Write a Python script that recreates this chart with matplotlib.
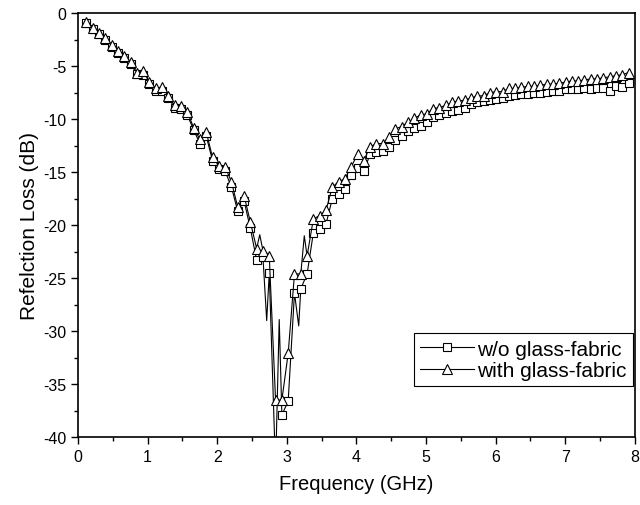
import numpy as np
import matplotlib
matplotlib.use("Agg")
import matplotlib.pyplot as plt
from matplotlib.ticker import MultipleLocator

plt.rcParams['font.family'] = ['Liberation Sans', 'DejaVu Sans']
plt.rcParams['axes.unicode_minus'] = False

# measured points (GHz)
freq = np.linspace(0.12, 7.91, 87)

# reflection loss without glass fabric (dB)
rl_without = [
    -0.9, -1.5, -2.0, -2.5, -3.2, -3.8, -4.2, -4.8, -5.7, -5.8,
    -6.7, -7.3, -7.3, -8.0, -8.9, -9.0, -9.6, -11.0, -12.3, -11.6,
    -13.9, -14.7, -14.9, -16.4, -18.7, -17.7, -20.3, -23.3, -23.0, -24.5,
    -43.0, -37.9, -36.6, -26.4, -26.0, -24.6, -20.7, -20.4, -19.9, -17.5,
    -17.1, -16.6, -15.3, -14.6, -14.9, -13.3, -13.1, -13.0, -12.6, -12.0,
    -11.6, -11.1, -10.8, -10.6, -10.3, -9.8, -9.6, -9.4, -9.2, -9.1,
    -8.9, -8.6, -8.4, -8.3, -8.2, -8.1, -8.0, -7.8, -7.7, -7.6,
    -7.6, -7.5, -7.5, -7.4, -7.3, -7.3, -7.2, -7.2, -7.2, -7.1,
    -7.2, -7.1, -7.1, -7.3, -6.9, -7.0, -6.6,
]

# reflection loss with glass fabric (dB)
rl_with = [
    -0.8, -1.4, -1.9, -2.3, -3.0, -3.6, -4.0, -4.6, -5.6, -5.5,
    -6.5, -7.1, -7.0, -7.8, -8.7, -8.8, -9.3, -10.8, -11.9, -11.2,
    -13.6, -14.4, -14.5, -15.9, -18.3, -17.2, -19.7, -22.2, -22.4, -22.9,
    -36.5, -36.5, -32.1, -24.6, -24.6, -22.9, -19.4, -19.1, -18.6, -16.4,
    -15.9, -15.6, -14.5, -13.3, -13.9, -12.6, -12.3, -12.3, -11.7, -10.9,
    -10.7, -10.3, -9.9, -9.6, -9.5, -9.0, -8.9, -8.7, -8.4, -8.3,
    -8.2, -8.0, -7.8, -7.8, -7.5, -7.4, -7.4, -7.1, -7.1, -7.0,
    -6.9, -6.9, -6.8, -6.7, -6.7, -6.6, -6.5, -6.4, -6.4, -6.3,
    -6.2, -6.2, -6.1, -6.0, -5.9, -5.8, -5.6,
]

# extra sweep points between markers around the absorption peak
extra_f_without = [2.71, 2.89, 3.17]
extra_rl_without = [-29.0, -28.9, -29.5]
extra_f_with = [2.61, 3.25]
extra_rl_with = [-20.9, -21.0]


def merge(f, rl, ef, erl):
    x = np.concatenate([f, ef])
    y = np.concatenate([rl, erl])
    order = np.argsort(x, kind='stable')
    marks = [i for i, o in enumerate(order) if o < len(f)]
    return x[order], y[order], marks


fig = plt.figure(figsize=(6.4, 5.06), dpi=100)
ax = fig.add_axes([0.122, 0.134, 0.870, 0.838])

x1, y1, m1 = merge(freq, rl_without, extra_f_without, extra_rl_without)
x2, y2, m2 = merge(freq, rl_with, extra_f_with, extra_rl_with)

ax.plot(x1, y1, color='black', lw=0.8, marker='s', markevery=m1,
        markersize=6, markerfacecolor='white', markeredgecolor='black',
        markeredgewidth=0.8, label='w/o glass-fabric')
ax.plot(x2, y2, color='black', lw=0.8, marker='^', markevery=m2,
        markersize=7, markerfacecolor='white', markeredgecolor='black',
        markeredgewidth=0.8, label='with glass-fabric')

ax.set_xlim(0, 8)
ax.set_ylim(-40, 0)
ax.xaxis.set_major_locator(MultipleLocator(1))
ax.xaxis.set_minor_locator(MultipleLocator(0.5))
ax.yaxis.set_major_locator(MultipleLocator(5))
ax.yaxis.set_minor_locator(MultipleLocator(2.5))
ax.tick_params(which='both', direction='out', top=False, right=False,
               labelsize=11.5, width=1.0)
ax.tick_params(which='major', length=5)
ax.tick_params(which='minor', length=3)
for s in ax.spines.values():
    s.set_linewidth(1.2)

ax.set_xlabel('Frequency (GHz)', fontsize=14.5, labelpad=7)
ax.set_ylabel('Refelction Loss (dB)', fontsize=15, labelpad=3)

leg = ax.legend(loc='lower right', bbox_to_anchor=(0.9965, 0.12),
                fontsize=15, frameon=True, fancybox=False, framealpha=1,
                edgecolor='black', handlelength=2.6, handletextpad=0.15,
                borderpad=0.3, labelspacing=0.12, borderaxespad=0)
leg.get_frame().set_linewidth(0.8)

fig.savefig('out.png', dpi=100)
